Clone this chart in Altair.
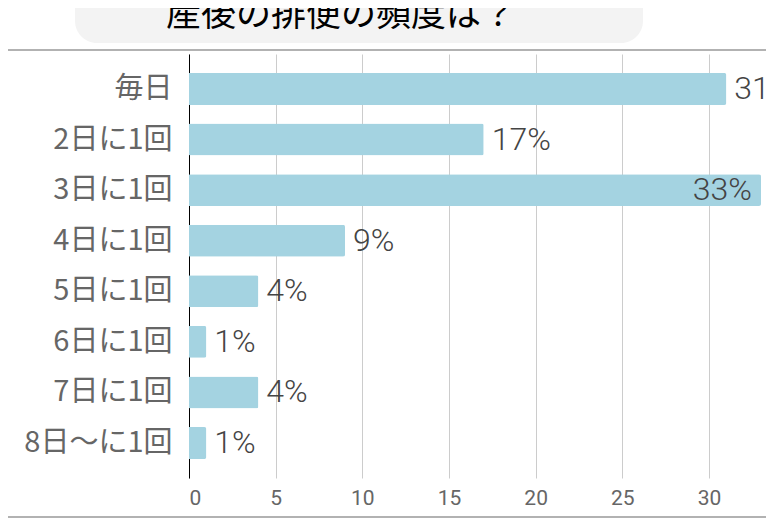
import altair as alt
import pandas as pd

categories = ["毎日", "2日に1回", "3日に1回", "4日に1回", "5日に1回", "6日に1回", "7日に1回", "8日〜に1回"]
values = [31, 17, 33, 9, 4, 1, 4, 1]
labels = ["31%", "17%", "33%", "9%", "4%", "1%", "4%", "1%"]
inside = [False, False, True, False, False, False, False, False]
x_ticks = [0, 5, 10, 15, 20, 25, 30]
title_text = "産後の排便の頻度は？"

df = pd.DataFrame({"cat": categories, "val": values, "lab": labels, "inside": inside})

W = 577
H = 424
XMAX = W / (520 / 30)

x_enc = alt.X("val:Q", scale=alt.Scale(domain=[0, XMAX], nice=False, zero=True),
              axis=alt.Axis(values=x_ticks, title=None, grid=True, gridColor="#cccccc",
                            domain=False, ticks=False, labelFont="Roboto", labelFontSize=21,
                            labelColor="#666666", labelPadding=9))
y_enc = alt.Y("cat:N", sort=categories,
              scale=alt.Scale(paddingInner=0.368, paddingOuter=0.375),
              axis=alt.Axis(title=None, ticks=False, domain=True, domainColor="#000000",
                            domainWidth=1, labelFont="Noto Sans CJK JP", labelFontSize=29,
                            labelColor="#666666", labelPadding=17))

base = alt.Chart(df)
bars = base.mark_bar(color="#a4d3e1", cornerRadiusEnd=2).encode(x=x_enc, y=y_enc)
txt_out = base.transform_filter("!datum.inside").mark_text(
    align="left", baseline="middle", dx=8, font="Roboto", fontWeight=300,
    fontSize=32, color="#444444").encode(x="val:Q", y=alt.Y("cat:N", sort=categories), text="lab:N")
txt_in = base.transform_filter("datum.inside").mark_text(
    align="right", baseline="middle", dx=-9, font="Roboto", fontWeight=300,
    fontSize=32, color="#444444").encode(x="val:Q", y=alt.Y("cat:N", sort=categories), text="lab:N")

one = pd.DataFrame({"a": [0]})
deco = alt.Chart(one)
box = deco.mark_rect(color="#f3f3f3", cornerRadius=22).encode(
    x=alt.value(-114), x2=alt.value(454), y=alt.value(-80), y2=alt.value(-11))
ttl = deco.mark_text(text=title_text, font="Noto Sans CJK JP", fontSize=35,
                     color="#000000", align="center", baseline="alphabetic").encode(
    x=alt.value(152), y=alt.value(-28))
top_line = deco.mark_rule(color="#999999", strokeWidth=1.5).encode(
    x=alt.value(-181), x2=alt.value(W), y=alt.value(-4))
bot_line = deco.mark_rule(color="#999999", strokeWidth=1.5).encode(
    x=alt.value(-181), x2=alt.value(W), y=alt.value(463))

chart = alt.layer(box, ttl, top_line, bars, txt_out, txt_in, bot_line).properties(
    width=W, height=H,
    autosize=alt.AutoSizeParams(type="none"),
    padding={"left": 181, "top": 46, "right": 0, "bottom": 40},
).configure_view(stroke=None)

chart.save("out.html", embed_options={"renderer": "svg", "actions": False})
